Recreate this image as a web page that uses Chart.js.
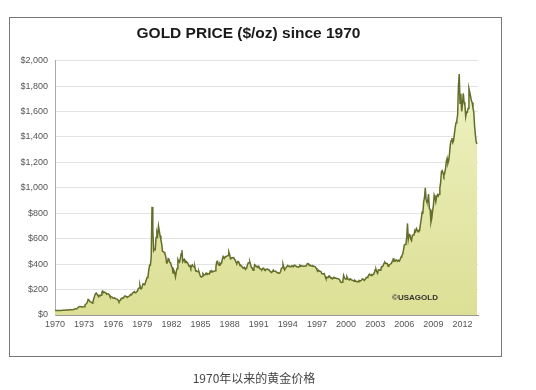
<!DOCTYPE html>
<html>
<head>
<meta charset="utf-8">
<script src="https://cdn.jsdelivr.net/npm/chart.js@4.4.1/dist/chart.umd.min.js"></script>
<style>
  body { margin: 0; background: #fff; }
  #wrap { position: relative; width: 536px; height: 390px; }
  #frame { position: absolute; left: 9px; top: 17px; width: 491px; height: 338px; border: 1px solid #777; pointer-events: none; }
  #caption { position: absolute; left: 0; width: 508px; top: 369px; text-align: center; font: 12px "Noto Sans CJK SC", sans-serif; color: #444; }
</style>
</head>
<body>
<div id="wrap">
  <canvas id="gold_chart" width="536" height="390"></canvas>
  <div id="frame"></div>
  <div id="caption">1970年以来的黄金价格</div>
</div>
<script>
// monthly gold price ($/oz), Jan 1970 .. Jul 2013
var startYear = 1970;
var prices = [
  35, 35, 35.1, 35.6, 35.9, 35.4, 35.3, 35.4, 36.2, 37.5, 37.4, 37.4,      // 1970
  37.9, 38.7, 38.9, 39, 40.5, 40.1, 41, 42.7, 42, 42.5, 42.9, 43.5,        // 1971
  45.8, 48.3, 48.3, 49, 54.6, 62.1, 65.7, 67, 65.5, 64.9, 62.9, 63.9,      // 1972
  65, 78, 84, 90, 102, 122, 118, 106, 103, 100, 94, 106,                   // 1973
  129, 150, 168, 172, 163, 154, 143, 154, 151, 158, 181, 188,              // 1974
  176, 180, 178, 170, 167, 165, 166, 160, 144, 143, 142, 139,              // 1975
  131, 131, 132, 128, 126, 125, 117, 106, 114, 117, 131, 133,              // 1976
  132, 136, 148, 149, 147, 141, 144, 145, 149, 158, 162, 161,              // 1977
  173, 178, 184, 175, 177, 183, 189, 206, 212, 235, 206, 208,              // 1978
  227, 245, 242, 239, 257, 279, 295, 301, 355, 392, 392, 456,              // 1979
  850, 665, 505, 517, 514, 610, 650, 627, 700, 661, 623, 590,              // 1980
  557, 500, 498, 494, 480, 460, 409, 410, 443, 437, 413, 410,              // 1981
  384, 374, 330, 350, 334, 300, 339, 365, 436, 422, 415, 444,              // 1982
  481, 510, 420, 432, 437, 413, 422, 416, 411, 393, 382, 388,              // 1983
  370, 386, 394, 381, 377, 378, 347, 348, 341, 340, 341, 320,              // 1984
  303, 299, 304, 325, 316, 317, 317, 330, 323, 326, 325, 322,              // 1985
  345, 339, 346, 340, 342, 343, 348, 376, 418, 423, 398, 391,              // 1986
  408, 401, 409, 438, 460, 450, 450, 460, 460, 465, 467, 496,              // 1987
  477, 442, 444, 452, 451, 452, 437, 431, 413, 407, 420, 419,              // 1988
  404, 388, 390, 384, 371, 367, 375, 365, 362, 367, 394, 409,              // 1989
  410, 416, 393, 374, 369, 352, 362, 395, 389, 380, 382, 378,              // 1990
  383, 364, 363, 358, 357, 367, 368, 356, 349, 359, 360, 361,              // 1991
  354, 354, 344, 338, 337, 341, 353, 343, 345, 344, 335, 334,              // 1992
  329, 330, 330, 342, 367, 372, 400, 378, 355, 365, 374, 383,              // 1993
  387, 382, 384, 378, 381, 386, 385, 380, 391, 389, 384, 379,              // 1994
  379, 377, 382, 391, 385, 387, 386, 383, 383, 383, 386, 387,              // 1995
  404, 405, 396, 393, 392, 385, 383, 387, 383, 381, 378, 369,              // 1996
  355, 346, 352, 344, 344, 341, 324, 324, 322, 325, 306, 289,              // 1997
  289, 297, 296, 308, 299, 292, 293, 284, 289, 296, 294, 291,              // 1998
  287, 287, 286, 282, 277, 261, 256, 257, 265, 311, 293, 283,              // 1999
  284, 300, 286, 280, 275, 285, 281, 274, 273, 270, 266, 272,              // 2000
  266, 262, 263, 261, 272, 270, 268, 273, 283, 283, 276, 276,              // 2001
  282, 296, 294, 302, 314, 321, 314, 310, 319, 317, 319, 333,              // 2002
  356, 359, 340, 328, 355, 356, 351, 360, 379, 379, 389, 407,              // 2003
  414, 405, 406, 404, 384, 392, 398, 400, 406, 420, 439, 442,              // 2004
  424, 423, 434, 429, 422, 430, 424, 438, 456, 470, 476, 510,              // 2005
  549, 555, 557, 610, 720, 596, 633, 632, 598, 585, 627, 629,              // 2006
  631, 665, 655, 679, 667, 655, 665, 665, 712, 754, 806, 803,              // 2007
  889, 922, 1000, 909, 888, 889, 950, 839, 829, 730, 760, 816,             // 2008
  858, 943, 924, 890, 928, 945, 934, 949, 996, 1043, 1127, 1134,           // 2009
  1117, 1095, 1113, 1148, 1205, 1232, 1193, 1215, 1271, 1343, 1370, 1391,  // 2010
  1356, 1372, 1424, 1474, 1512, 1529, 1572, 1800, 1895, 1665, 1739, 1600,  // 2011
  1656, 1742, 1673, 1650, 1560, 1596, 1594, 1626, 1780, 1750, 1721, 1684,  // 2012
  1670, 1628, 1593, 1485, 1414, 1360, 1345                                 // 2013
];
var tickYears = [1970, 1973, 1976, 1979, 1982, 1985, 1988, 1991, 1994, 1997, 2000, 2003, 2006, 2009, 2012];

var points = prices.map(function(p, i) {
    return { x: startYear + i / 12, y: p };
});

// copyright note in the corner of the plot
var stampPlugin = {
    id: 'stamp',
    afterDatasetsDraw: function(chart) {
        var c = chart.ctx, a = chart.chartArea;
        c.save();
        c.font = 'bold 8px "Liberation Sans", Arial, sans-serif';
        c.fillStyle = '#333';
        c.textAlign = 'center';
        c.textBaseline = 'middle';
        c.fillText('\u00A9USAGOLD', a.right - 63, a.bottom - 17);
        c.restore();
    }
};

var chart = new Chart(document.getElementById('gold_chart'), {
    type: 'line',
    data: {
        datasets: [{
            data: points,
            borderColor: '#636e2a',
            borderWidth: 1.5,
            pointRadius: 0,
            fill: 'origin',
            backgroundColor: function(ctx) {
                var area = ctx.chart.chartArea;
                if (!area) return '#e2e5a2';
                var g = ctx.chart.ctx.createLinearGradient(0, area.top, 0, area.bottom);
                g.addColorStop(0, '#eff3c4');
                g.addColorStop(1, '#dcdf95');
                return g;
            }
        }]
    },
    options: {
        responsive: false,
        animation: false,
        layout: { padding: { left: 19, right: 58, top: 23, bottom: 55 } },
        plugins: {
            legend: { display: false },
            tooltip: { enabled: false },
            title: {
                display: true,
                text: 'GOLD PRICE ($/oz) since 1970',
                color: '#1a1a1a',
                font: { family: '"Liberation Sans", Arial, sans-serif', size: 15.5, weight: 'bold' },
                padding: { top: 1, bottom: 18 }
            }
        },
        scales: {
            x: {
                type: 'linear',
                min: 1970,
                max: 2013.6,
                afterFit: function(scale) { scale.height = 20; },
                afterBuildTicks: function(scale) {
                    scale.ticks = tickYears.map(function(v) { return { value: v }; });
                },
                grid: { display: false, drawTicks: false },
                border: { display: true, color: '#999' },
                ticks: {
                    padding: 4,
                    color: '#555',
                    autoSkip: false,
                    maxRotation: 0,
                    font: { family: '"Liberation Sans", Arial, sans-serif', size: 9 },
                    callback: function(v) { return String(v); }
                }
            },
            y: {
                min: 0,
                max: 2000,
                afterFit: function(scale) { scale.width = 36; },
                grid: { color: '#e3e3e3', drawTicks: false },
                border: { display: true, color: '#aaa' },
                ticks: {
                    stepSize: 200,
                    padding: 7,
                    color: '#555',
                    font: { family: '"Liberation Sans", Arial, sans-serif', size: 9 },
                    callback: function(v) { return '$' + v.toLocaleString('en-US'); }
                }
            }
        }
    },
    plugins: [stampPlugin]
});
</script>
</body>
</html>
